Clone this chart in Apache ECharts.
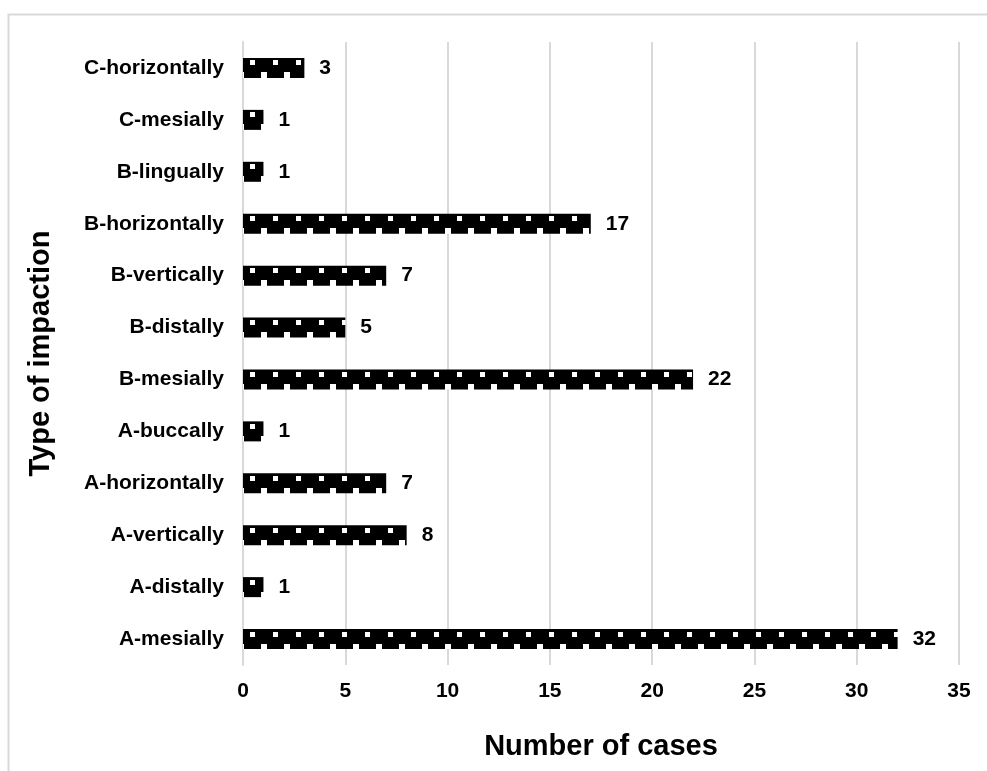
<!DOCTYPE html>
<html>
<head>
<meta charset="utf-8">
<script src="https://cdn.jsdelivr.net/npm/echarts@6/dist/echarts.min.js"></script>
<style>
html,body{margin:0;padding:0;background:#fff;}
#chart{width:987px;height:771px;}
</style>
</head>
<body>
<div id="chart"></div>
<script>
var categories = ['A-mesially','A-distally','A-vertically','A-horizontally','A-buccally','B-mesially','B-distally','B-vertically','B-horizontally','B-lingually','C-mesially','C-horizontally'];
var cases = [32, 1, 8, 7, 1, 22, 5, 7, 17, 1, 1, 3];
var xTicks = [0, 5, 10, 15, 20, 25, 30, 35];

// pattern tile: black with small white squares (staggered rows)
var tile = document.createElement('canvas');
tile.width = 23; tile.height = 52;
var g = tile.getContext('2d');
g.fillStyle = '#000'; g.fillRect(0, 0, 23, 52);
g.fillStyle = '#fff';
g.fillRect(20, 8, 5, 5); g.fillRect(-3, 8, 5, 5);
g.fillRect(8, 20, 6, 6);

var chart = echarts.init(document.getElementById('chart'), null, {renderer: 'canvas'});
var font = 'Liberation Sans, Arial, sans-serif';
chart.setOption({
  animation: false,
  backgroundColor: '#fff',
  graphic: [{
    type: 'rect', left: 6, top: 12, silent: true,
    shape: {width: 1200, height: 1000},
    style: {fill: 'none', stroke: '#d9d9d9', lineWidth: 2}
  }],
  grid: {left: 243, right: 28, top: 42, bottom: 106, containLabel: false},
  xAxis: {
    type: 'value', min: xTicks[0], max: xTicks[xTicks.length - 1], interval: 5,
    name: 'Number of cases', nameLocation: 'middle', nameGap: 67,
    nameTextStyle: {fontFamily: font, fontWeight: 'bold', fontSize: 29, color: '#000'},
    axisLine: {show: false}, axisTick: {show: false},
    axisLabel: {fontFamily: font, fontWeight: 'bold', fontSize: 21, color: '#000', margin: 16},
    splitLine: {show: true, lineStyle: {color: '#d9d9d9', width: 2}}
  },
  yAxis: {
    type: 'category', data: categories,
    name: 'Type of impaction', nameLocation: 'middle', nameGap: 188,
    nameTextStyle: {fontFamily: font, fontWeight: 'bold', fontSize: 29, color: '#000'},
    axisLine: {show: true, lineStyle: {color: '#d9d9d9', width: 2}},
    axisTick: {show: false},
    axisLabel: {fontFamily: font, fontWeight: 'bold', fontSize: 21, color: '#000', margin: 19}
  },
  series: [{
    type: 'bar', data: cases, barWidth: 20,
    itemStyle: {color: {image: tile, repeat: 'repeat'}},
    label: {show: true, position: 'right', distance: 15,
      fontFamily: font, fontWeight: 'bold', fontSize: 21, color: '#000'}
  }]
});
</script>
</body>
</html>
